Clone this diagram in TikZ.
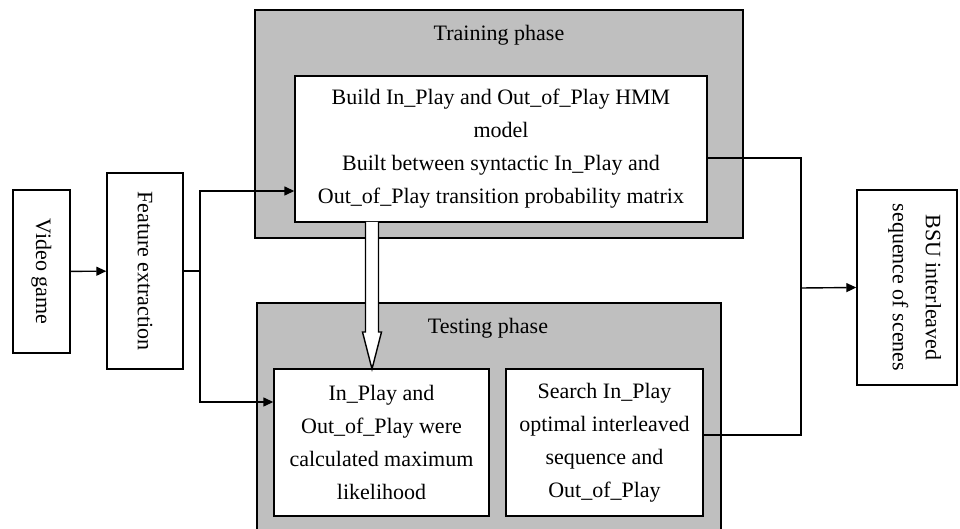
\documentclass[tikz,border=0pt]{standalone}
\usepackage{fontspec}
\setmainfont{Liberation Serif}
\usetikzlibrary{arrows.meta,calc}

\begin{document}
\begin{tikzpicture}[x=0.5pt, y=-0.5pt,
    font=\fontsize{11}{16.5}\selectfont,
    box/.style={draw, fill=white, line width=0.7pt, align=center, inner sep=0pt},
    phase/.style={draw, fill=gray!50, line width=0.7pt},
    link/.style={line width=0.7pt},
    arr/.style={link, -{Triangle[length=5pt, width=4.5pt]}}]
    \useasboundingbox (0,0) rectangle (960,529);
    \clip (0,0) rectangle (960,529);

    % Phases
    \draw[phase] (255,10) rectangle (743,238);
    \node (train) at (499,35) {Training phase};
    \draw[phase] (257,303) rectangle (721,545);
    \node (test) at (488,328) {Testing phase};

    % Blocs
    \node[box, minimum width=28.5pt, minimum height=81.5pt] (video) at (41.5,271.5) {\rotatebox{-90}{Video game}};
    \node[box, minimum width=38pt, minimum height=98pt] (feat) at (145,271) {\rotatebox{-90}{Feature extraction}};
    \node[box, minimum width=206pt, minimum height=73pt] (build) at (501,149)
        {Build In\_Play and Out\_of\_Play HMM\\model\\Built between syntactic In\_Play and\\Out\_of\_Play transition probability matrix};
    \node[box, minimum width=107.5pt, minimum height=73.5pt] (calc) at (381.5,442.5)
        {In\_Play and\\Out\_of\_Play were\\calculated maximum\\likelihood};
    \node[box, minimum width=98.5pt, minimum height=73.5pt] (search) at (604.5,442.5)
        {Search In\_Play\\optimal interleaved\\sequence and\\Out\_of\_Play};
    \node[box, minimum width=50pt, minimum height=97.5pt] (bsu) at (907,287.5)
        {\hspace*{9pt}\rotatebox{-90}{\begin{tabular}{@{}c@{}}BSU interleaved\\sequence of scenes\end{tabular}}};

    % Liaisons
    \draw[arr] (video) -- (feat);
    \coordinate (split) at (200,271);
    \draw[link] (feat.east) -- (split);
    \draw[arr] (split) |- ([yshift=-21pt]build.west);
    \draw[arr] (split) |- ([yshift=20.25pt]calc.west);
    \coordinate (merge) at (801,288);
    \draw[link] ([yshift=-4.5pt]build.east) -| (merge);
    \draw[link] ([yshift=3.75pt]search.east) -| (merge);
    \draw[arr] (merge) -- (bsu.west);

    % Fleche creuse
    \coordinate (ha) at (372,222);
    \coordinate (hb) at (372,369);
    \draw[link, fill=white] ($(ha)+(-3.25pt,0)$) -- ($(hb)+(-3.25pt,18.5pt)$) -- ($(hb)+(-4.75pt,18.5pt)$)
        -- (hb) -- ($(hb)+(4.75pt,18.5pt)$) -- ($(hb)+(3.25pt,18.5pt)$) -- ($(ha)+(3.25pt,0)$);

\end{tikzpicture}
\end{document}
